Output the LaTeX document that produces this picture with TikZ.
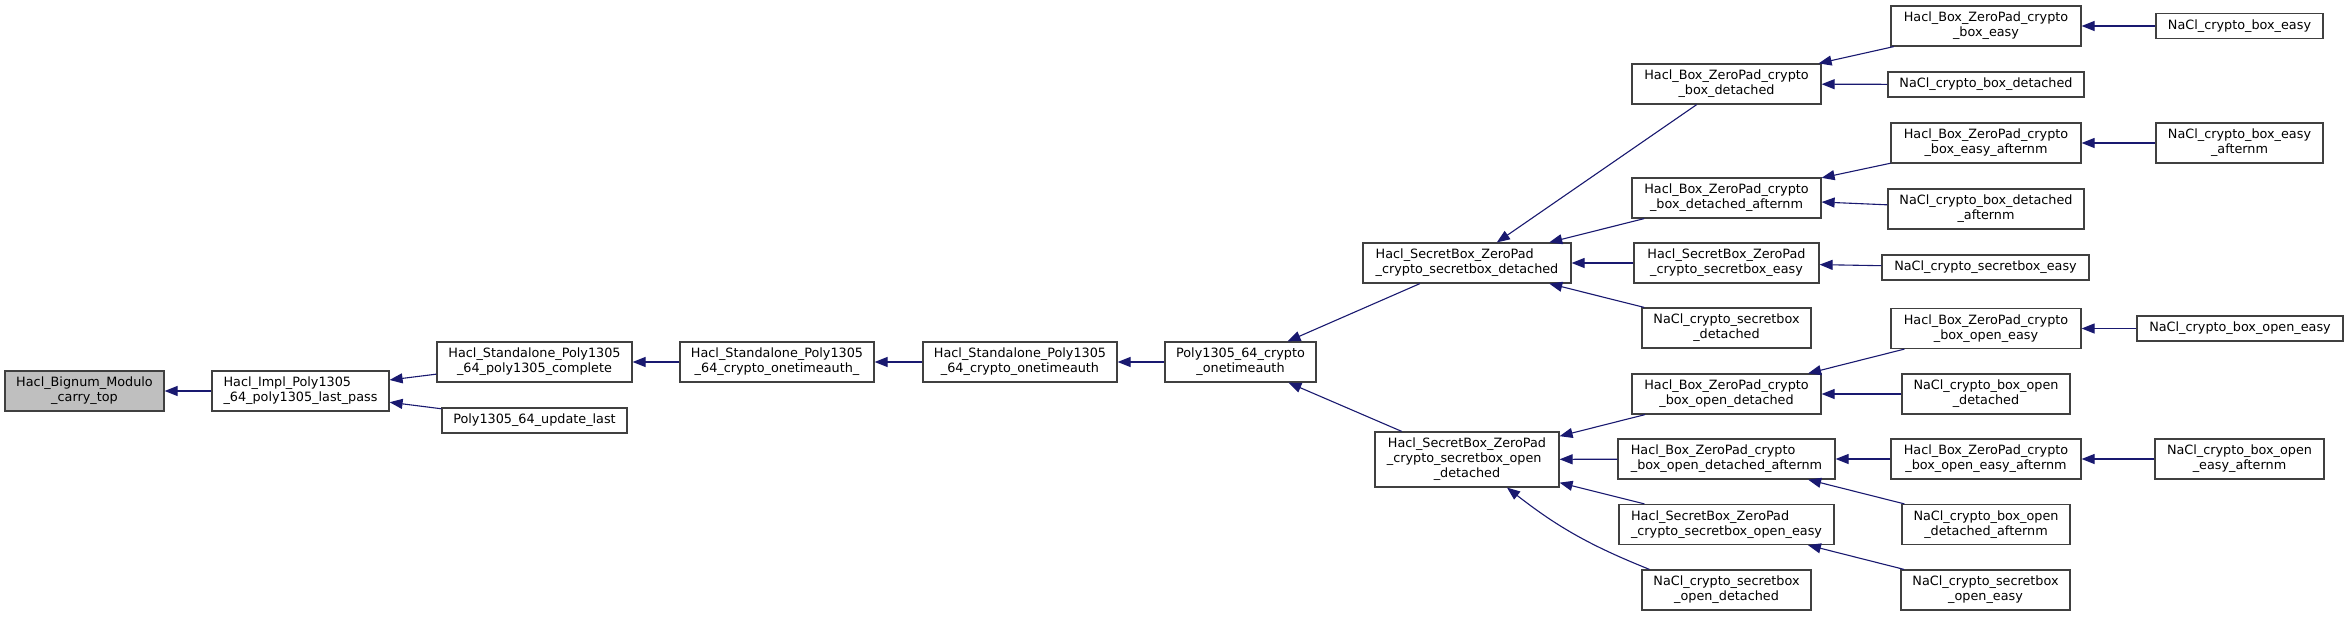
\documentclass[tikz,border=0pt]{standalone}
\usepackage{fontspec}
\setmainfont{DejaVu Sans}
\usetikzlibrary{arrows.meta}
\definecolor{boxgray}{HTML}{404040}
\definecolor{edgeblue}{HTML}{191970}
\definecolor{hlgray}{HTML}{BFBFBF}
\begin{document}
\begin{tikzpicture}[x=1pt,y=-1pt,
  fn/.style={draw=boxgray, line width=1.2pt, fill=white, minimum height=40pt, inner sep=0pt, align=center, font=\fontsize{12.8}{15}\selectfont},
  one/.style={minimum height=25pt},
  three/.style={minimum height=55pt},
  lft/.style={align=left},
  call/.style={draw=edgeblue, line width=1.1pt, -{Triangle[length=13pt,width=10pt]}}]
\fill[white] (0,0) rectangle (2348,616);
\useasboundingbox (0,0) rectangle (2348,616);

% column 0-6
\node[fn, fill=hlgray, minimum width=159pt] (carry) at (84.5,391) {Hacl\_Bignum\_Modulo\\\_carry\_top};
\node[fn, lft, minimum width=177pt] (lastpass) at (300.5,391) {Hacl\_Impl\_Poly1305\\\_64\_poly1305\_last\_pass};
\node[fn, minimum width=195pt] (complete) at (534.5,362) {Hacl\_Standalone\_Poly1305\\\_64\_poly1305\_complete};
\node[fn, one, minimum width=185pt] (updatelast) at (534.5,420.5) {Poly1305\_64\_update\_last};
\node[fn, minimum width=194pt] (otau) at (777,362) {Hacl\_Standalone\_Poly1305\\\_64\_crypto\_onetimeauth\_};
\node[fn, minimum width=194pt] (ota) at (1020,362) {Hacl\_Standalone\_Poly1305\\\_64\_crypto\_onetimeauth};
\node[fn, minimum width=151pt] (poly) at (1240.5,362) {Poly1305\_64\_crypto\\\_onetimeauth};

% secretbox level
\node[fn, lft, minimum width=208pt] (sbd) at (1467,263) {Hacl\_SecretBox\_ZeroPad\\\_crypto\_secretbox\_detached};
\node[fn, three, minimum width=184pt] (sbod) at (1467,459.5) {Hacl\_SecretBox\_ZeroPad\\\_crypto\_secretbox\_open\rule{5.6pt}{0pt}\\\_detached};

% third level
\node[fn, minimum width=189pt] (bd) at (1726.5,84) {Hacl\_Box\_ZeroPad\_crypto\\\_box\_detached};
\node[fn, minimum width=189pt] (bda) at (1726.5,198) {Hacl\_Box\_ZeroPad\_crypto\\\_box\_detached\_afternm};
\node[fn, minimum width=185pt] (sbe) at (1726.5,263) {Hacl\_SecretBox\_ZeroPad\\\_crypto\_secretbox\_easy};
\node[fn, minimum width=169pt] (nsbd) at (1726.5,328) {NaCl\_crypto\_secretbox\\\_detached};
\node[fn, minimum width=189pt] (bod) at (1726.5,394) {Hacl\_Box\_ZeroPad\_crypto\\\_box\_open\_detached};
\node[fn, lft, minimum width=217pt] (boda) at (1726.5,459) {Hacl\_Box\_ZeroPad\_crypto\\\_box\_open\_detached\_afternm};
\node[fn, lft, minimum width=215pt] (sboe) at (1726.5,524.5) {Hacl\_SecretBox\_ZeroPad\\\_crypto\_secretbox\_open\_easy};
\node[fn, minimum width=169pt] (nsod) at (1726.5,590) {NaCl\_crypto\_secretbox\\\_open\_detached};

% fourth level
\node[fn, minimum width=190pt] (be) at (1986,26) {Hacl\_Box\_ZeroPad\_crypto\\\_box\_easy};
\node[fn, one, minimum width=196pt] (nbd) at (1986,84.5) {NaCl\_crypto\_box\_detached};
\node[fn, minimum width=190pt] (bea) at (1986,143) {Hacl\_Box\_ZeroPad\_crypto\\\_box\_easy\_afternm};
\node[fn, minimum width=196pt] (nbda) at (1986,209) {NaCl\_crypto\_box\_detached\\\_afternm};
\node[fn, one, minimum width=207pt] (nsbe) at (1985.5,267.5) {NaCl\_crypto\_secretbox\_easy};
\node[fn, minimum width=190pt] (boe) at (1986,328.5) {Hacl\_Box\_ZeroPad\_crypto\\\_box\_open\_easy};
\node[fn, minimum width=168pt] (nbod) at (1986,394) {NaCl\_crypto\_box\_open\\\_detached};
\node[fn, minimum width=190pt] (boea) at (1986,459) {Hacl\_Box\_ZeroPad\_crypto\\\_box\_open\_easy\_afternm};
\node[fn, minimum width=168pt] (nboda) at (1986,524.5) {NaCl\_crypto\_box\_open\\\_detached\_afternm};
\node[fn, minimum width=169pt] (nsboe) at (1985.5,590) {NaCl\_crypto\_secretbox\\\_open\_easy};

% fifth level
\node[fn, one, minimum width=167pt] (nbe) at (2239.5,26) {NaCl\_crypto\_box\_easy};
\node[fn, minimum width=167pt] (nbea) at (2239.5,143) {NaCl\_crypto\_box\_easy\\\_afternm};
\node[fn, one, minimum width=206pt] (nboe) at (2240,328.5) {NaCl\_crypto\_box\_open\_easy};
\node[fn, minimum width=169pt] (nboea) at (2239.5,459) {NaCl\_crypto\_box\_open\\\_easy\_afternm};

% edges (caller -> callee)
\draw[call] (lastpass) -- (carry);
\draw[call] (complete) -- (lastpass);
\draw[call] (updatelast) -- (lastpass);
\draw[call] (otau) -- (complete);
\draw[call] (ota) -- (otau);
\draw[call] (poly) -- (ota);
\draw[call] (sbd) -- (poly);
\draw[call] (sbod) -- (poly);

\draw[call] (bd) -- (sbd);
\draw[call] (bda) -- (sbd);
\draw[call] (sbe) -- (sbd);
\draw[call] (nsbd) -- (sbd);

\draw[call] (bod) -- (sbod);
\draw[call] (boda) -- (sbod);
\draw[call] (sboe) -- (sbod);
\draw[call] ([xshift=-77pt]nsod.north) to[bend left=8] ([xshift=40pt]sbod.south);

\draw[call] (be) -- (bd);
\draw[call] (nbd) -- (bd);
\draw[call] (bea) -- (bda);
\draw[call] (nbda) -- (bda);
\draw[call] (nsbe) -- (sbe);
\draw[call] (boe) -- (bod);
\draw[call] (nbod) -- (bod);
\draw[call] (boea) -- (boda);
\draw[call] (nboda) -- (boda);
\draw[call] (nsboe) -- (sboe);

\draw[call] (nbe) -- (be);
\draw[call] (nbea) -- (bea);
\draw[call] (nboe) -- (boe);
\draw[call] (nboea) -- (boea);
\end{tikzpicture}
\end{document}
